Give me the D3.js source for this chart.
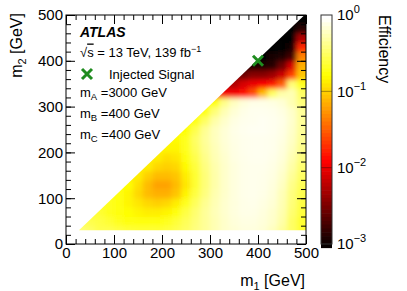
<!DOCTYPE html>
<html>
<head>
<meta charset="utf-8">
<script src="https://cdn.jsdelivr.net/npm/d3@7"></script>
<style>
  body { margin: 0; background: #fff; }
  text { font-family: "Liberation Sans", Arial, Helvetica, sans-serif; fill: #000; }
</style>
</head>
<body>
<svg id="chart" width="407" height="291"></svg>
<script>
// lower edges of the 20 GeV bins
const m1Bins = [20,40,60,80,100,120,140,160,180,200,220,240,260,280,300,320,340,360,380,400,420,440,460,480];
const m2Bins = [20,40,60,80,100,120,140,160,180,200,220,240,260,280,300,320,340,360,380,400,420,440,460,480];
const binWidth = 20;

// efficiency, one array per m2 bin, starting at the diagonal bin (m1 bin = m2 bin)
const eff030 = [0.40,0.35,0.30,0.30,0.28,0.26,0.25,0.25,0.25,0.27,0.30,0.35,0.42,0.50,0.60,0.70,0.75,0.80,0.80,0.75,0.65,0.50,0.35,0.25];
const eff050 = [0.30,0.28,0.25,0.22,0.20,0.20,0.20,0.20,0.22,0.26,0.32,0.40,0.50,0.60,0.70,0.78,0.82,0.82,0.78,0.70,0.55,0.35,0.25];
const eff070 = [0.25,0.22,0.20,0.18,0.16,0.15,0.15,0.16,0.20,0.28,0.38,0.50,0.62,0.72,0.80,0.85,0.85,0.80,0.72,0.58,0.38,0.27];
const eff090 = [0.22,0.20,0.16,0.14,0.12,0.11,0.12,0.15,0.22,0.33,0.47,0.60,0.72,0.80,0.85,0.87,0.82,0.75,0.60,0.40,0.28];
const eff110 = [0.20,0.16,0.12,0.09,0.08,0.08,0.10,0.16,0.28,0.42,0.58,0.70,0.80,0.86,0.88,0.85,0.78,0.62,0.42,0.30];
const eff130 = [0.18,0.13,0.09,0.07,0.07,0.09,0.14,0.25,0.40,0.56,0.70,0.80,0.86,0.88,0.86,0.80,0.66,0.45,0.32];
const eff150 = [0.15,0.11,0.09,0.09,0.10,0.15,0.25,0.40,0.56,0.70,0.80,0.86,0.88,0.87,0.82,0.70,0.50,0.35];
const eff170 = [0.15,0.12,0.11,0.12,0.17,0.27,0.42,0.57,0.70,0.80,0.86,0.88,0.88,0.84,0.74,0.55,0.38];
const eff190 = [0.15,0.13,0.14,0.19,0.30,0.45,0.60,0.72,0.82,0.87,0.90,0.90,0.86,0.78,0.60,0.42];
const eff210 = [0.16,0.16,0.22,0.33,0.48,0.62,0.74,0.83,0.88,0.90,0.90,0.88,0.80,0.65,0.45];
const eff230 = [0.17,0.22,0.35,0.50,0.64,0.76,0.84,0.88,0.90,0.90,0.88,0.82,0.68,0.48];
const eff250 = [0.18,0.30,0.48,0.64,0.76,0.85,0.90,0.92,0.92,0.90,0.84,0.70,0.50];
const eff270 = [0.20,0.35,0.55,0.70,0.82,0.88,0.90,0.92,0.90,0.85,0.72,0.50];
const eff290 = [0.20,0.40,0.60,0.75,0.85,0.90,0.90,0.88,0.82,0.70,0.50];
const eff310 = [0.18,0.45,0.65,0.78,0.85,0.85,0.82,0.75,0.60,0.40];
const eff330 = [0.012,0.012,0.015,0.03,0.09,0.35,0.55,0.60,0.35];
const eff350 = [0.006,0.009,0.011,0.013,0.016,0.035,0.40,0.22];
const eff370 = [0.003,0.004,0.004,0.005,0.008,0.025,0.10];
const eff390 = [0.0012,0.0013,0.0015,0.003,0.009,0.08];
const eff410 = [0.001,0.0012,0.0013,0.002,0.05];
const eff430 = [0.001,0.001,0.0012,0.02];
const eff450 = [0.001,0.001,0.006];
const eff470 = [0.001,0.0015];
const eff490 = [0.001];
const effRows = [eff030,eff050,eff070,eff090,eff110,eff130,eff150,eff170,eff190,eff210,eff230,eff250,
                 eff270,eff290,eff310,eff330,eff350,eff370,eff390,eff410,eff430,eff450,eff470,eff490];

// filled region of the map (m1, m2 in GeV)
const regionEdge = [[27,30],[500,30],[500,500],[497,500]];
const injectedSignal = [400, 400];

const axisTicks = [0,100,200,300,400,500];
const colorTicks = [1e-3,1e-2,1e-1,1];
const colorExp = ["\u22123","\u22122","\u22121","0"];
const infoLines = [
  {m: "A", v: "=3000 GeV"},
  {m: "B", v: "=400 GeV"},
  {m: "C", v: "=400 GeV"}
];

const svg = d3.select("#chart");
const x = d3.scaleLinear().domain([0, 500]).range([66, 306]);
const y = d3.scaleLinear().domain([0, 500]).range([244, 15]);
const zLog = d3.scaleLog().domain([1e-3, 1]).range([0, 1]).clamp(true);
const hot = d3.scaleLinear()
  .domain([0, 0.375, 0.75, 1])
  .range(["#000000", "#ff0000", "#ffff00", "#ffffff"])
  .clamp(true);
const color = v => hot(zLog(v));

const defs = svg.append("defs");
defs.append("clipPath").attr("id", "region")
  .append("polygon")
  .attr("points", regionEdge.map(p => x(p[0]) + "," + y(p[1])).join(" "));
defs.append("filter").attr("id", "soft")
  .attr("filterUnits", "userSpaceOnUse")
  .attr("x", 0).attr("y", 0).attr("width", 407).attr("height", 291)
  .append("feGaussianBlur").attr("stdDeviation", 2.7);

// heat map cells; edge cells are stretched one bin outward so the blur keeps its colour up to the clip
let cells = [];
effRows.forEach(function(row, r){
  row.forEach(function(v, j){
    let c = r + j;
    let lo1 = m1Bins[c], hi1 = m1Bins[c] + binWidth;
    let lo2 = m2Bins[r], hi2 = m2Bins[r] + binWidth;
    if (j == 0) lo1 -= binWidth;
    if (c == m1Bins.length - 1) hi1 += binWidth;
    if (r == 0) lo2 -= binWidth;
    if (r == m2Bins.length - 1) hi2 += binWidth;
    cells.push({lo1, hi1, lo2, hi2, v});
  });
});

svg.append("g").attr("clip-path", "url(#region)")
  .append("g").attr("filter", "url(#soft)")
  .selectAll("rect")
  .data(cells)
  .enter()
  .append("rect")
  .attr("x", d => x(d.lo1))
  .attr("y", d => y(d.hi2))
  .attr("width", d => x(d.hi1) - x(d.lo1) + 0.5)
  .attr("height", d => y(d.lo2) - y(d.hi2) + 0.5)
  .attr("fill", d => color(d.v));

// axes, ticks pointing inward on all four sides
function styleAxis(g){
  g.select(".domain").remove();
  g.selectAll("line").attr("stroke", "#000");
  g.selectAll("text").style("font-size", "15px").attr("fill", "#000");
}
const minor = d3.range(0, 501, 20);
svg.append("g").attr("transform", "translate(0,244)")
  .call(d3.axisBottom(x).tickValues(axisTicks).tickSizeInner(-9).tickSizeOuter(0).tickPadding(3).tickFormat(d3.format("d")))
  .call(styleAxis);
svg.append("g").attr("transform", "translate(0,244)")
  .call(d3.axisBottom(x).tickValues(minor).tickSizeInner(-5).tickSizeOuter(0).tickFormat(""))
  .call(styleAxis);
svg.append("g").attr("transform", "translate(0,15)")
  .call(d3.axisTop(x).tickValues(axisTicks).tickSizeInner(-9).tickSizeOuter(0).tickFormat(""))
  .call(styleAxis);
svg.append("g").attr("transform", "translate(0,15)")
  .call(d3.axisTop(x).tickValues(minor).tickSizeInner(-5).tickSizeOuter(0).tickFormat(""))
  .call(styleAxis);
svg.append("g").attr("transform", "translate(66,0)")
  .call(d3.axisLeft(y).tickValues(axisTicks).tickSizeInner(-9).tickSizeOuter(0).tickPadding(3).tickFormat(d3.format("d")))
  .call(styleAxis);
svg.append("g").attr("transform", "translate(66,0)")
  .call(d3.axisLeft(y).tickValues(minor).tickSizeInner(-5).tickSizeOuter(0).tickFormat(""))
  .call(styleAxis);
svg.append("g").attr("transform", "translate(306,0)")
  .call(d3.axisRight(y).tickValues(axisTicks).tickSizeInner(-9).tickSizeOuter(0).tickFormat(""))
  .call(styleAxis);
svg.append("g").attr("transform", "translate(306,0)")
  .call(d3.axisRight(y).tickValues(minor).tickSizeInner(-5).tickSizeOuter(0).tickFormat(""))
  .call(styleAxis);

svg.append("rect")
  .attr("x", x(0)).attr("y", y(500))
  .attr("width", x(500) - x(0)).attr("height", y(0) - y(500))
  .attr("fill", "none").attr("stroke", "#000").attr("stroke-width", 1);

// axis titles
let xt = svg.append("text").attr("x", 305).attr("y", 286).attr("text-anchor", "end").style("font-size", "16px");
xt.append("tspan").text("m");
xt.append("tspan").attr("dy", 4).style("font-size", "11px").text("1");
xt.append("tspan").attr("dy", -4).text("  [GeV]");

let yt = svg.append("text").attr("transform", "translate(22,13) rotate(-90)").attr("text-anchor", "end").style("font-size", "16px");
yt.append("tspan").text("m");
yt.append("tspan").attr("dy", 4).style("font-size", "11px").text("2");
yt.append("tspan").attr("dy", -4).text("  [GeV]");

// colour bar
const cbar = d3.scaleLog().domain([1e-3, 1]).range([244, 15]);
const bands = d3.range(60);
svg.append("g").selectAll("rect")
  .data(bands)
  .enter()
  .append("rect")
  .attr("x", 321)
  .attr("width", 11)
  .attr("y", i => cbar(Math.pow(10, -3 * (i + 1) / 60)) - 0.3)
  .attr("height", i => cbar(Math.pow(10, -3 * (i + 1) / 60)) - cbar(Math.pow(10, -3 * i / 60)) + 0.6)
  .attr("fill", i => color(Math.pow(10, -3 * (i + 0.5) / 60)));
svg.append("g").selectAll("line")
  .data(colorTicks.slice(1, 3))
  .enter()
  .append("line")
  .attr("x1", 321).attr("x2", 332)
  .attr("y1", d => cbar(d)).attr("y2", d => cbar(d))
  .attr("stroke", "#000").attr("stroke-opacity", 0.35);
svg.append("rect")
  .attr("x", 321).attr("y", 15).attr("width", 11).attr("height", 229)
  .attr("fill", "none").attr("stroke", "#333").attr("stroke-width", 1);

let cl = svg.append("g").selectAll("text")
  .data(colorTicks)
  .enter()
  .append("text")
  .attr("x", 337)
  .attr("y", d => cbar(d) + 5.4)
  .style("font-size", "15px");
cl.append("tspan").text("10");
cl.append("tspan").attr("dy", -7).style("font-size", "11px").text((d, i) => colorExp[i]);

svg.append("text")
  .attr("transform", "translate(379,15) rotate(90)")
  .style("font-size", "16px")
  .text("Efficiency");

// injected signal marker
function cross(g, cx, cy){
  g.append("path")
    .attr("d", "M" + (cx - 5) + "," + (cy - 5) + "L" + (cx + 5) + "," + (cy + 5) +
               "M" + (cx - 5) + "," + (cy + 5) + "L" + (cx + 5) + "," + (cy - 5))
    .attr("stroke", "#1f8c1f").attr("stroke-width", 3).attr("fill", "none");
}
cross(svg, x(injectedSignal[0]), y(injectedSignal[1]));

// labels
svg.append("text").attr("x", 80).attr("y", 36.5)
  .style("font-size", "14px").style("font-weight", "bold").style("font-style", "italic")
  .text("ATLAS");

let rs = svg.append("text").attr("x", 80).attr("y", 56.5).style("font-size", "13px");
rs.append("tspan").text("\u221A");
rs.append("tspan").style("text-decoration", "overline").text("s");
rs.append("tspan").text(" = 13 TeV, 139 fb");
rs.append("tspan").attr("dy", -5).style("font-size", "9px").text("\u22121");

cross(svg, 87, 74);
svg.append("text").attr("x", 109).attr("y", 78.5).style("font-size", "13px").text("Injected Signal");

let il = svg.append("g").selectAll("text")
  .data(infoLines)
  .enter()
  .append("text")
  .attr("x", 80)
  .attr("y", (d, i) => 96.5 + i * 21)
  .style("font-size", "13px");
il.append("tspan").text("m");
il.append("tspan").attr("dy", 3).style("font-size", "9.5px").text(d => d.m);
il.append("tspan").attr("dy", -3).text(d => " " + d.v);
</script>
</body>
</html>
